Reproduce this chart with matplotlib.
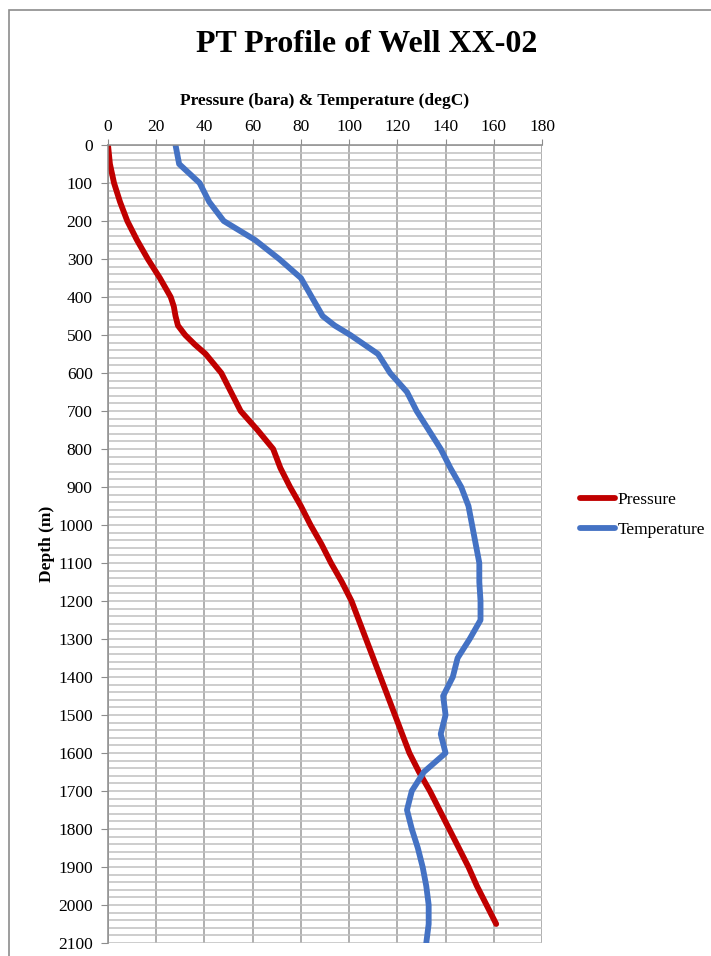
import matplotlib
matplotlib.use("Agg")
import matplotlib.pyplot as plt
from matplotlib.patches import Rectangle
from matplotlib.ticker import MultipleLocator

plt.rcParams['font.family'] = ['Liberation Serif', 'DejaVu Serif']

# depth (m)
depth_p = [0, 50, 100, 150, 200, 250, 300, 350, 400, 425, 450, 475, 500, 525, 550, 600, 650, 700,
           750, 800, 850, 900, 950, 1000, 1050, 1100, 1150, 1200, 1250, 1300, 1350,
           1400, 1450, 1500, 1550, 1600, 1650, 1700, 1750, 1800, 1850, 1900, 1950,
           2000, 2050]
pressure = [0, 0.8, 2.5, 5, 8, 12, 16.5, 21.5, 26, 27.3, 28, 29, 32, 36, 40.5, 47, 51, 55,
            62, 68.5, 71.5, 75.5, 80, 84, 88.5, 92.5, 97, 101, 104, 107, 110,
            113, 116, 119, 122, 125, 129, 133.5, 137.5, 141.5, 145.5, 149.5, 153,
            157, 161]

depth_t = [0, 50, 100, 150, 200, 250, 300, 350, 400, 450, 475, 500, 550, 600, 650, 700,
           750, 800, 850, 900, 950, 1000, 1050, 1100, 1150, 1200, 1250, 1300, 1350,
           1400, 1450, 1500, 1550, 1600, 1625, 1650, 1700, 1750, 1800, 1850, 1900, 1950,
           2000, 2050, 2100]
temperature = [28, 29.5, 38, 42, 48, 61, 71, 80, 84.5, 89, 94, 100.5, 112, 117, 124, 128,
               133, 138, 142, 146.5, 149.5, 151, 152.5, 154, 154, 154.5, 154.5, 150, 145,
               143, 139, 140, 138, 140, 135.5, 131, 126, 124, 126, 128.5, 130.5, 132,
               133, 133, 132]

fig = plt.figure(figsize=(7.11, 9.56), dpi=100)
fig.patches.append(Rectangle((9 / 711, -0.01), 1.0, 1 - 10 / 956 + 0.01,
                             transform=fig.transFigure, fill=False,
                             edgecolor='#8c8c8c', linewidth=1.2))

ax = fig.add_axes([108 / 711, 1 - 943 / 956, 434 / 711, 798 / 956])
ax.plot(pressure, depth_p, color='#C00000', lw=4.2, label='Pressure',
        solid_capstyle='round', solid_joinstyle='round')
ax.plot(temperature, depth_t, color='#4472C4', lw=4.2, label='Temperature',
        solid_capstyle='round', solid_joinstyle='round')

ax.set_xlim(0, 180)
ax.set_ylim(2100, 0)
ax.xaxis.set_major_locator(MultipleLocator(20))
ax.yaxis.set_major_locator(MultipleLocator(100))
ax.yaxis.set_minor_locator(MultipleLocator(20))
ax.xaxis.tick_top()
ax.xaxis.set_label_position('top')
ax.tick_params(axis='x', which='major', length=4, color='#8c8c8c', labelsize=12.5, pad=3)
ax.tick_params(axis='y', which='major', length=5, color='#8c8c8c', labelsize=12.5, pad=6)
ax.tick_params(axis='y', which='minor', length=0)

ax.grid(axis='x', which='major', color='#9a9a9a', lw=1.1)
ax.grid(axis='y', which='both', color='#c0c0c0', lw=1.1)
ax.set_axisbelow(True)
for s in ['bottom', 'right']:
    ax.spines[s].set_visible(False)
for s in ['left', 'top']:
    ax.spines[s].set_color('#8c8c8c')
    ax.spines[s].set_linewidth(1.1)

ax.set_xlabel('Pressure (bara) & Temperature (degC)', fontsize=12.5, fontweight='bold', labelpad=10)
ax.set_ylabel('Depth (m)', fontsize=12.5, fontweight='bold', labelpad=2)

fig.text(367 / 711, 1 - 45 / 956, 'PT Profile of Well XX-02', ha='center', va='center',
         fontsize=23, fontweight='bold')

fig.legend(handles=ax.get_lines(), loc='center left', bbox_to_anchor=(580 / 711, 1 - 515 / 956),
           frameon=False, fontsize=12.5, borderpad=0, borderaxespad=0,
           handlelength=2.0, handletextpad=0.15, labelspacing=0.75)

fig.savefig('out.png', dpi=100)
